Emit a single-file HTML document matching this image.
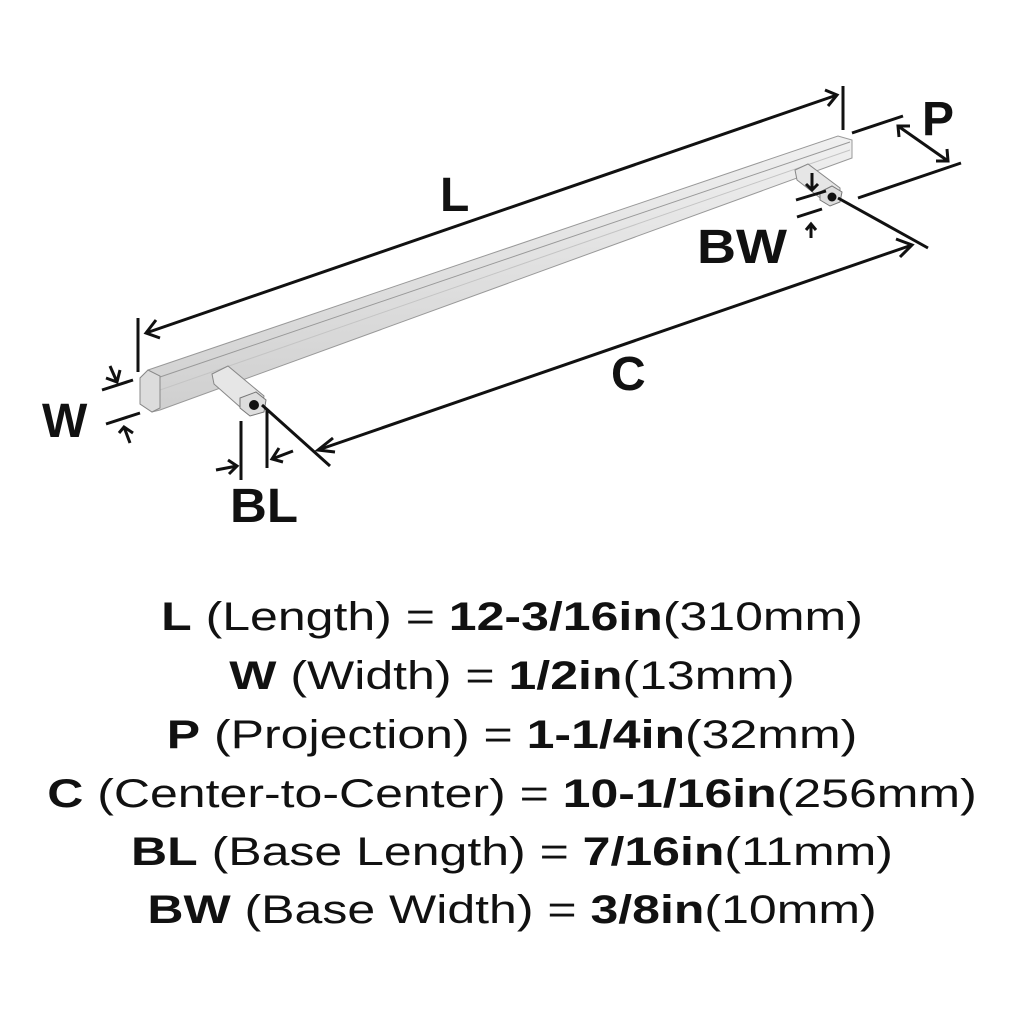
<!DOCTYPE html>
<html><head><style>
body{margin:0;background:#fff;width:1024px;height:1024px;overflow:hidden;font-family:"Liberation Sans",sans-serif;color:#111}
.t{position:absolute;left:0;width:1024px;text-align:center;font-size:40px;line-height:40px;transform:scaleX(1.25);transform-origin:512px 0}
b{font-weight:700}
</style></head><body>
<svg width="1024" height="1024" style="position:absolute;left:0;top:0">
<defs>
<linearGradient id="g" x1="0" y1="0" x2="0" y2="1"><stop offset="0" stop-color="#f0f0f0"/><stop offset="1" stop-color="#cfcfcf"/></linearGradient>
</defs>
<polygon points="148,370 838,136 852,140 852,158 160,410 152,412 140,404 140,378" fill="url(#g)" stroke="#999" stroke-width="1"/>
<line x1="160" y1="377" x2="850" y2="142" stroke="#999"/>
<line x1="160" y1="390" x2="850" y2="150" stroke="#c4c4c4"/>
<polygon points="140,378 148,370 160,376 160,408 152,412 140,404" fill="#dcdcdc" stroke="#888"/>
<polygon points="212,374 228,366 264,396 262,408 248,414 214,384" fill="#e6e6e6" stroke="#888"/>
<polygon points="240,398 256,392 266,400 264,412 250,416 240,408" fill="#ddd" stroke="#777"/>
<circle cx="254" cy="405" r="5" fill="#111"/>
<polygon points="795,170 808,164 840,188 840,198 828,204 797,180" fill="#e6e6e6" stroke="#888"/>
<polygon points="820,192 832,186 842,192 840,202 830,206 820,200" fill="#ddd" stroke="#777"/>
<circle cx="832" cy="197" r="4.5" fill="#111"/>
<g stroke="#111" stroke-width="3" fill="none">
<line x1="138" y1="318" x2="138" y2="372"/><line x1="843" y1="86" x2="843" y2="130"/>
<line x1="146" y1="333" x2="837" y2="95"/>
<polyline points="156,320 146,333 160,338"/><polyline points="825,90 837,95 828,106"/>
<line x1="852" y1="133" x2="903" y2="116"/><line x1="858" y1="198" x2="961" y2="163"/>
<line x1="898" y1="126" x2="948" y2="161"/>
<polyline points="899,137 898,126 910,126"/><polyline points="947,149 948,161 936,161"/>
<line x1="262" y1="405" x2="330" y2="466"/><line x1="838" y1="198" x2="928" y2="248"/>
<line x1="318" y1="450" x2="912" y2="245"/>
<polyline points="333,438 318,450 335,452"/><polyline points="896,239 912,245 900,257"/>
<line x1="102" y1="390" x2="133" y2="380"/><line x1="106" y1="424" x2="140" y2="413"/>
<line x1="110" y1="366" x2="117" y2="382"/><polyline points="106,378 117,382 120,370"/>
<line x1="130" y1="443" x2="124" y2="427"/><polyline points="119,433 124,427 133,433"/>
<line x1="241" y1="421" x2="241" y2="480"/><line x1="267" y1="410" x2="267" y2="468"/>
<line x1="216" y1="470" x2="237" y2="466"/><polyline points="228,460 237,466 229,474"/>
<line x1="293" y1="451" x2="272" y2="459"/><polyline points="279,448 272,459 283,462"/>
<line x1="796" y1="200" x2="826" y2="191"/><line x1="797" y1="217" x2="822" y2="209"/>
<line x1="812" y1="173" x2="812" y2="190"/><polyline points="806,184 812,190 818,184"/>
<line x1="811" y1="238" x2="811" y2="224"/><polyline points="806,230 811,224 816,230"/>
</g>
<g font-family="Liberation Sans,sans-serif" font-weight="700" fill="#111" font-size="48">
<text x="440" y="211">L</text>
<text x="922" y="135">P</text>
<text x="697" y="263" textLength="90" lengthAdjust="spacingAndGlyphs">BW</text>
<text x="611" y="390">C</text>
<text x="42" y="437">W</text>
<text x="230" y="522" textLength="68" lengthAdjust="spacingAndGlyphs">BL</text>
</g>
</svg>
<div class="t" style="top:597px"><b>L</b> (Length) = <b>12-3/16in</b>(310mm)</div>
<div class="t" style="top:656px"><b>W</b> (Width) = <b>1/2in</b>(13mm)</div>
<div class="t" style="top:715px"><b>P</b> (Projection) = <b>1-1/4in</b>(32mm)</div>
<div class="t" style="top:774px"><b>C</b> (Center-to-Center) = <b>10-1/16in</b>(256mm)</div>
<div class="t" style="top:832px"><b>BL</b> (Base Length) = <b>7/16in</b>(11mm)</div>
<div class="t" style="top:890px"><b>BW</b> (Base Width) = <b>3/8in</b>(10mm)</div>
</body></html>
